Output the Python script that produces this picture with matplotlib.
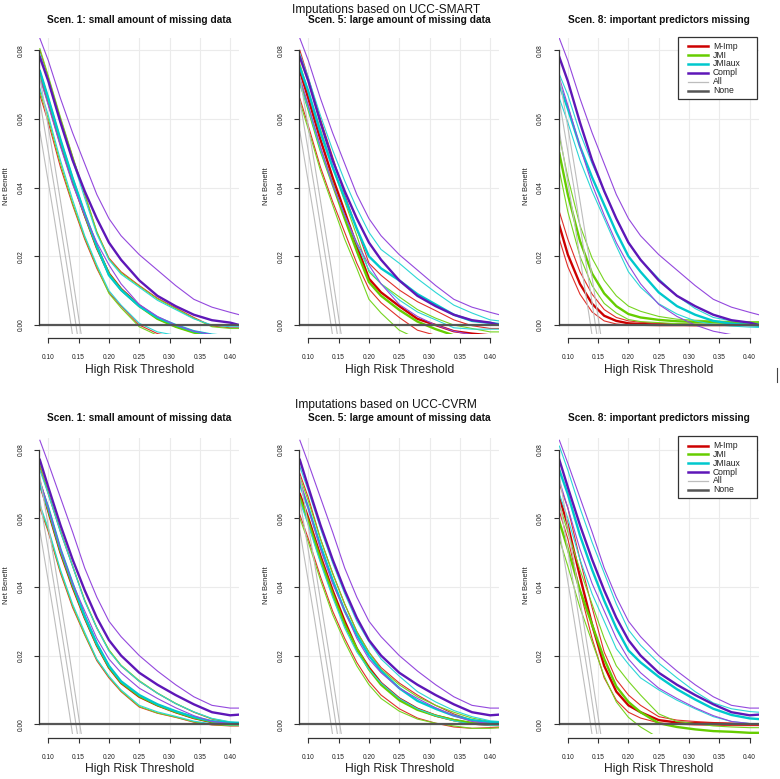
import matplotlib
matplotlib.use("Agg")
import matplotlib.pyplot as plt
from matplotlib.lines import Line2D
from matplotlib.patches import Rectangle

plt.rcParams['font.family'] = ['Liberation Sans', 'DejaVu Sans']

# ---------------- data ----------------
X = [0.086, 0.10, 0.12, 0.14, 0.16, 0.18, 0.20, 0.22, 0.25, 0.28, 0.31, 0.34, 0.37, 0.40, 0.415]

methods = ['M-Imp', 'JMI', 'JMIaux', 'Compl']
legend_labels = ['M-Imp', 'JMI', 'JMIaux', 'Compl', 'All', 'None']
row_titles = ['Imputations based on UCC-SMART', 'Imputations based on UCC-CVRM']
panel_titles = ['Scen. 1: small amount of missing data',
                'Scen. 5: large amount of missing data',
                'Scen. 8: important predictors missing']
x_ticks = [0.10, 0.15, 0.20, 0.25, 0.30, 0.35, 0.40]
y_ticks = [0.00, 0.02, 0.04, 0.06, 0.08]

# "treat all" net benefit (three lines: estimate and interval)
X_ALL = [0.086, 0.11, 0.135, 0.16]
all_lines = [
    [0.0564, 0.0309, 0.0029, -0.0268],
    [0.0653, 0.0401, 0.0124, -0.0170],
    [0.0722, 0.0472, 0.0197, -0.0095],
]
none_value = 0.0

# each method: [lower, mean, upper]
smart_compl = [
    [0.072, 0.064, 0.052, 0.041, 0.032, 0.024, 0.0175, 0.012, 0.006, 0.0025, 0.0, -0.0018, -0.0028, -0.003, -0.003],
    [0.078, 0.071, 0.059, 0.048, 0.039, 0.031, 0.024, 0.019, 0.013, 0.0085, 0.0055, 0.003, 0.0014, 0.0007, 0.0],
    [0.0835, 0.077, 0.066, 0.056, 0.047, 0.038, 0.031, 0.026, 0.0205, 0.016, 0.0115, 0.0075, 0.0052, 0.0037, 0.003],
]
smart_s1_mimp = [
    [0.067, 0.059, 0.046, 0.035, 0.025, 0.0165, 0.0095, 0.0055, 0.0, -0.0025, -0.0035, -0.004, -0.004, -0.004, -0.004],
    [0.073, 0.065, 0.053, 0.042, 0.032, 0.0225, 0.015, 0.0105, 0.0057, 0.002, -0.0003, -0.002, -0.003, -0.0035, -0.0035],
    [0.080, 0.072, 0.060, 0.049, 0.038, 0.027, 0.0195, 0.0155, 0.0115, 0.0078, 0.005, 0.0022, -0.0003, -0.0008, -0.0008],
]
smart_s1_jmi = [
    [0.068, 0.060, 0.047, 0.0355, 0.0255, 0.017, 0.0092, 0.005, -0.0005, -0.003, -0.004, -0.004, -0.004, -0.004, -0.004],
    [0.0735, 0.0655, 0.0535, 0.0425, 0.0322, 0.0228, 0.0148, 0.0103, 0.0055, 0.0018, -0.0005, -0.0022, -0.0032, -0.0036, -0.0036],
    [0.0805, 0.0725, 0.0605, 0.0492, 0.0383, 0.0272, 0.0192, 0.0152, 0.0113, 0.0076, 0.0048, 0.002, -0.0005, -0.001, -0.001],
]
smart_s1_jmiaux = [
    [0.069, 0.061, 0.048, 0.0365, 0.026, 0.0175, 0.010, 0.0058, 0.0005, -0.002, -0.003, -0.0035, -0.004, -0.004, -0.004],
    [0.074, 0.066, 0.054, 0.0428, 0.0325, 0.023, 0.0145, 0.0102, 0.0055, 0.0022, 0.0, -0.0018, -0.0028, -0.0033, -0.0035],
    [0.079, 0.071, 0.059, 0.048, 0.037, 0.0265, 0.019, 0.0148, 0.011, 0.0072, 0.0045, 0.0018, 0.0, -0.0005, -0.0005],
]
smart_s5_mimp = [
    [0.066, 0.058, 0.046, 0.036, 0.027, 0.018, 0.0105, 0.0065, 0.0022, -0.0015, -0.003, -0.004, -0.004, -0.004, -0.004],
    [0.074, 0.066, 0.054, 0.043, 0.033, 0.023, 0.0135, 0.0095, 0.0055, 0.0018, 0.0, -0.0018, -0.0025, -0.003, -0.003],
    [0.080, 0.072, 0.060, 0.049, 0.038, 0.028, 0.018, 0.0145, 0.0102, 0.0068, 0.0042, 0.0015, -0.0002, -0.001, -0.001],
]
smart_s5_jmi = [
    [0.065, 0.057, 0.045, 0.035, 0.025, 0.0165, 0.0075, 0.0035, -0.0015, -0.004, -0.004, -0.004, -0.004, -0.004, -0.004],
    [0.071, 0.063, 0.051, 0.041, 0.031, 0.0215, 0.0125, 0.0085, 0.0044, 0.001, -0.0012, -0.003, -0.004, -0.004, -0.004],
    [0.076, 0.068, 0.057, 0.046, 0.036, 0.026, 0.0155, 0.012, 0.0082, 0.0045, 0.002, 0.0, -0.001, -0.002, -0.002],
]
smart_s5_jmiaux = [
    [0.070, 0.063, 0.051, 0.041, 0.032, 0.0235, 0.016, 0.012, 0.0073, 0.0038, 0.0015, -0.0008, -0.0012, -0.0012, -0.0012],
    [0.075, 0.068, 0.056, 0.046, 0.037, 0.028, 0.020, 0.0165, 0.013, 0.009, 0.006, 0.003, 0.0012, 0.0006, 0.0003],
    [0.079, 0.072, 0.061, 0.051, 0.042, 0.034, 0.027, 0.022, 0.018, 0.0135, 0.0095, 0.0058, 0.0035, 0.0015, 0.0012],
]
smart_s8_mimp = [
    [0.025, 0.017, 0.009, 0.0038, 0.0012, 0.0003, 0.0, -0.0001, -0.0002, -0.0002, -0.0002, -0.0001, -0.0001, -0.0001, -0.0001],
    [0.029, 0.0205, 0.012, 0.0062, 0.0027, 0.0012, 0.0005, 0.0003, 0.0001, 0.0001, 0.0, 0.0, 0.0, 0.0, 0.0],
    [0.033, 0.025, 0.0155, 0.009, 0.0045, 0.0022, 0.0012, 0.0008, 0.0005, 0.0003, 0.0002, 0.0001, 0.0, 0.0, 0.0],
]
smart_s8_jmi = [
    [0.045, 0.033, 0.020, 0.0115, 0.0063, 0.0035, 0.0016, 0.001, 0.0007, 0.0004, 0.0003, 0.0002, 0.0001, 0.0, 0.0],
    [0.050, 0.038, 0.0245, 0.015, 0.0092, 0.0055, 0.0032, 0.0022, 0.0015, 0.0011, 0.0009, 0.0008, 0.0006, 0.0005, 0.0005],
    [0.055, 0.043, 0.029, 0.0195, 0.013, 0.0085, 0.0055, 0.004, 0.0025, 0.0017, 0.0014, 0.0012, 0.001, 0.001, 0.001],
]
smart_s8_jmiaux = [
    [0.066, 0.059, 0.048, 0.039, 0.031, 0.023, 0.0155, 0.011, 0.0062, 0.0032, 0.0012, 0.0002, -0.0003, -0.0006, -0.0007],
    [0.070, 0.063, 0.052, 0.043, 0.035, 0.027, 0.020, 0.0155, 0.0095, 0.0055, 0.003, 0.0012, 0.0004, 0.0, -0.0002],
    [0.073, 0.067, 0.056, 0.047, 0.039, 0.031, 0.024, 0.019, 0.0135, 0.0085, 0.0048, 0.0022, 0.0012, 0.0005, 0.0003],
]

cvrm_compl = [
    [0.071, 0.063, 0.051, 0.041, 0.033, 0.025, 0.019, 0.015, 0.0105, 0.0075, 0.0048, 0.0025, 0.0008, 0.0002, 0.0002],
    [0.077, 0.069, 0.058, 0.048, 0.039, 0.031, 0.0245, 0.020, 0.015, 0.0115, 0.0085, 0.0058, 0.0035, 0.0026, 0.0028],
    [0.0827, 0.076, 0.066, 0.056, 0.0455, 0.037, 0.030, 0.0255, 0.020, 0.0155, 0.0115, 0.008, 0.0055, 0.0047, 0.0047],
]
cvrm_s1_mimp = [
    [0.063, 0.056, 0.044, 0.034, 0.026, 0.0185, 0.0135, 0.0095, 0.005, 0.0032, 0.002, 0.0006, -0.0002, -0.0005, -0.0005],
    [0.070, 0.062, 0.050, 0.040, 0.031, 0.023, 0.0165, 0.012, 0.008, 0.0055, 0.0035, 0.0018, 0.0006, 0.0002, 0.0002],
    [0.075, 0.067, 0.056, 0.046, 0.036, 0.028, 0.0215, 0.017, 0.0125, 0.009, 0.006, 0.0035, 0.0015, 0.0005, 0.0003],
]
cvrm_s1_jmi = [
    [0.0635, 0.0565, 0.0445, 0.0345, 0.0262, 0.0188, 0.0138, 0.0097, 0.0052, 0.0033, 0.0021, 0.0007, -0.0001, -0.0004, -0.0004],
    [0.0705, 0.0625, 0.0505, 0.0405, 0.0313, 0.0232, 0.0167, 0.0122, 0.0082, 0.0056, 0.0036, 0.0019, 0.0007, 0.0003, 0.0003],
    [0.0755, 0.0675, 0.0565, 0.0462, 0.0362, 0.0282, 0.0217, 0.0172, 0.0127, 0.0091, 0.0061, 0.0036, 0.0016, 0.0006, 0.0004],
]
cvrm_s1_jmiaux = [
    [0.064, 0.057, 0.045, 0.035, 0.0268, 0.019, 0.014, 0.010, 0.0055, 0.0036, 0.0023, 0.0009, 0.0001, -0.0002, -0.0002],
    [0.070, 0.063, 0.051, 0.041, 0.0315, 0.0235, 0.017, 0.0125, 0.0085, 0.0058, 0.0038, 0.0021, 0.0009, 0.0004, 0.0004],
    [0.074, 0.067, 0.056, 0.046, 0.0358, 0.028, 0.0213, 0.017, 0.0125, 0.009, 0.006, 0.0036, 0.0017, 0.0007, 0.0005],
]
cvrm_s5_mimp = [
    [0.061, 0.054, 0.043, 0.033, 0.025, 0.018, 0.0125, 0.0085, 0.0045, 0.0018, 0.0003, -0.0008, -0.0012, -0.001, -0.001],
    [0.067, 0.060, 0.049, 0.039, 0.030, 0.022, 0.0165, 0.012, 0.0075, 0.0045, 0.0025, 0.0012, 0.0002, -0.0002, -0.0003],
    [0.073, 0.066, 0.054, 0.044, 0.035, 0.027, 0.021, 0.0165, 0.012, 0.0085, 0.0055, 0.003, 0.0012, 0.0004, 0.0003],
]
cvrm_s5_jmi = [
    [0.060, 0.053, 0.042, 0.032, 0.024, 0.017, 0.0115, 0.0075, 0.0038, 0.0015, 0.0003, -0.0005, -0.0012, -0.0012, -0.001],
    [0.066, 0.059, 0.048, 0.038, 0.029, 0.022, 0.016, 0.0115, 0.007, 0.0042, 0.0025, 0.0012, 0.0004, 0.0, -0.0001],
    [0.072, 0.065, 0.054, 0.044, 0.035, 0.027, 0.021, 0.016, 0.0115, 0.008, 0.0055, 0.0035, 0.0018, 0.0008, 0.0005],
]
cvrm_s5_jmiaux = [
    [0.065, 0.058, 0.047, 0.037, 0.028, 0.021, 0.016, 0.012, 0.0075, 0.0045, 0.0025, 0.001, 0.0, -0.0003, -0.0003],
    [0.070, 0.063, 0.052, 0.042, 0.033, 0.026, 0.020, 0.0155, 0.0105, 0.0068, 0.0045, 0.0025, 0.0012, 0.0006, 0.0005],
    [0.075, 0.068, 0.057, 0.047, 0.038, 0.030, 0.024, 0.019, 0.014, 0.0095, 0.0065, 0.004, 0.0022, 0.001, 0.0008],
]
cvrm_s8_mimp = [
    [0.062, 0.054, 0.039, 0.025, 0.0135, 0.007, 0.0035, 0.0018, 0.0004, 0.0, -0.0002, -0.0003, -0.0004, -0.0004, -0.0004],
    [0.066, 0.058, 0.043, 0.029, 0.017, 0.0095, 0.0055, 0.0035, 0.0012, 0.0005, 0.0003, 0.0002, 0.0001, 0.0, 0.0],
    [0.070, 0.063, 0.048, 0.034, 0.021, 0.013, 0.0085, 0.0055, 0.0022, 0.0012, 0.0008, 0.0005, 0.0003, 0.0002, 0.0002],
]
cvrm_s8_jmi = [
    [0.054, 0.046, 0.034, 0.024, 0.014, 0.0065, 0.002, -0.0008, -0.004, -0.005, -0.005, -0.005, -0.005, -0.005, -0.005],
    [0.059, 0.051, 0.039, 0.029, 0.019, 0.011, 0.0065, 0.0035, 0.0003, -0.0008, -0.0015, -0.002, -0.0022, -0.0025, -0.0025],
    [0.064, 0.056, 0.045, 0.035, 0.025, 0.017, 0.0125, 0.0085, 0.003, 0.0008, 0.0002, -0.0005, -0.0008, -0.001, -0.001],
]
cvrm_s8_jmiaux = [
    [0.067, 0.060, 0.048, 0.038, 0.030, 0.022, 0.0175, 0.0135, 0.010, 0.007, 0.0045, 0.0022, 0.0008, 0.0002, 0.0002],
    [0.074, 0.067, 0.055, 0.045, 0.036, 0.028, 0.0215, 0.018, 0.0138, 0.0102, 0.0072, 0.0045, 0.0027, 0.0017, 0.0015],
    [0.081, 0.074, 0.063, 0.053, 0.044, 0.035, 0.0275, 0.023, 0.0178, 0.0135, 0.0095, 0.0062, 0.0045, 0.0037, 0.0035],
]

panels = [
    [[smart_s1_mimp, smart_s1_jmi, smart_s1_jmiaux, smart_compl],
     [smart_s5_mimp, smart_s5_jmi, smart_s5_jmiaux, smart_compl],
     [smart_s8_mimp, smart_s8_jmi, smart_s8_jmiaux, smart_compl]],
    [[cvrm_s1_mimp, cvrm_s1_jmi, cvrm_s1_jmiaux, cvrm_compl],
     [cvrm_s5_mimp, cvrm_s5_jmi, cvrm_s5_jmiaux, cvrm_compl],
     [cvrm_s8_mimp, cvrm_s8_jmi, cvrm_s8_jmiaux, cvrm_compl]],
]

# ---------------- style ----------------
COL_THICK = {'M-Imp': '#CD0000', 'JMI': '#66CD00', 'JMIaux': '#00C8CD', 'Compl': '#5E17B8'}
COL_THIN = {'M-Imp': '#E0302A', 'JMI': '#77D420', 'JMIaux': '#2CD6D6', 'Compl': '#9448DE'}
ALL_COL = '#BDBDBD'
NONE_COL = '#555555'
AX_COL = '#333333'

W, H = 780, 779
fig = plt.figure(figsize=(W / 100, H / 100), dpi=100)

def fx(px):
    return px / W

def fy(py):
    return 1 - py / H

col_left = [39.0, 299.0, 558.5]
ax_w = 200.5
row_top = [38.3, 437.5]
ax_h = 296.0
row_title_y = [10.0, 405.0]
panel_title_y = [20.0, 418.0]
XLIM = (0.0846, 0.4154)
YLIM = (-0.0027, 0.0835)

for r in range(2):
    fig.text(fx(386), fy(row_title_y[r]), row_titles[r], ha='center', va='center',
             fontsize=8.6, color='#111111')
    for c in range(3):
        left = col_left[c]
        top = row_top[r]
        ax = fig.add_axes([fx(left), fy(top + ax_h), ax_w / W, ax_h / H])
        ax.set_xlim(*XLIM)
        ax.set_ylim(*YLIM)
        ax.grid(True, color='#EBEBEB', lw=0.8)
        ax.set_axisbelow(True)
        for key in ('top', 'right'):
            ax.spines[key].set_visible(False)
        ax.spines['left'].set_bounds(0.0, 0.08)
        ax.spines['bottom'].set_bounds(0.10, 0.40)
        ax.spines['bottom'].set_position(('outward', 3))
        for key in ('left', 'bottom'):
            ax.spines[key].set_color(AX_COL)
            ax.spines[key].set_linewidth(0.9)
        ax.set_xticks(x_ticks)
        ax.set_xticklabels(['%.2f' % v for v in x_ticks])
        ax.set_yticks(y_ticks)
        ax.set_yticklabels(['%.2f' % v for v in y_ticks], rotation=90, va='center')
        ax.tick_params(axis='both', direction='out', length=3.5, width=0.8, color=AX_COL,
                       labelsize=4.8, labelcolor='#222222')
        ax.tick_params(axis='x', pad=8)
        ax.tick_params(axis='y', pad=7)

        for m, data in zip(methods, panels[r][c]):
            lo, mid, hi = data
            ax.plot(X, lo, color=COL_THIN[m], lw=0.8, solid_joinstyle='round')
            ax.plot(X, hi, color=COL_THIN[m], lw=0.8, solid_joinstyle='round')
            ax.plot(X, mid, color=COL_THICK[m], lw=1.7, solid_joinstyle='round')
        for yy in all_lines:
            ax.plot(X_ALL, yy, color=ALL_COL, lw=0.8)
        ax.axhline(none_value, color=NONE_COL, lw=1.6)

        cx = left + ax_w / 2
        fig.text(fx(cx), fy(panel_title_y[r]), panel_titles[c], ha='center', va='center',
                 fontsize=7.3, fontweight='bold', color='#111111')
        fig.text(fx(cx), fy(top + ax_h + 35.7), 'High Risk Threshold', ha='center', va='center',
                 fontsize=8.7, color='#222222')
        fig.text(fx(left - 32.5), fy(top + ax_h / 2), 'Net Benefit', ha='center', va='center',
                 rotation=90, fontsize=5.4, color='#222222')

        if c == 2:
            bx0, bx1 = 678, 757
            by0 = top - 1.3
            by1 = by0 + 62
            fig.patches.append(Rectangle((fx(bx0), fy(by1)), (bx1 - bx0) / W, (by1 - by0) / H,
                                         transform=fig.transFigure, facecolor='white',
                                         edgecolor=AX_COL, lw=0.9, zorder=5))
            leg_cols = [COL_THICK['M-Imp'], COL_THICK['JMI'], COL_THICK['JMIaux'],
                        COL_THICK['Compl'], ALL_COL, NONE_COL]
            leg_lw = [1.8, 1.8, 1.8, 1.8, 0.9, 1.8]
            for i, lab in enumerate(legend_labels):
                yy = by0 + 9.3 + 8.85 * i
                fig.add_artist(Line2D([fx(688), fx(708)], [fy(yy), fy(yy)], color=leg_cols[i],
                                      lw=leg_lw[i], transform=fig.transFigure, zorder=6))
                fig.text(fx(713), fy(yy), lab, ha='left', va='center', fontsize=6.2,
                         color='#222222', zorder=7)

# small stray mark at the right edge
fig.add_artist(Line2D([fx(776.5), fx(776.5)], [fy(368), fy(382)], color='#444444', lw=0.8,
                      transform=fig.transFigure))

fig.savefig('out.png', dpi=100)
